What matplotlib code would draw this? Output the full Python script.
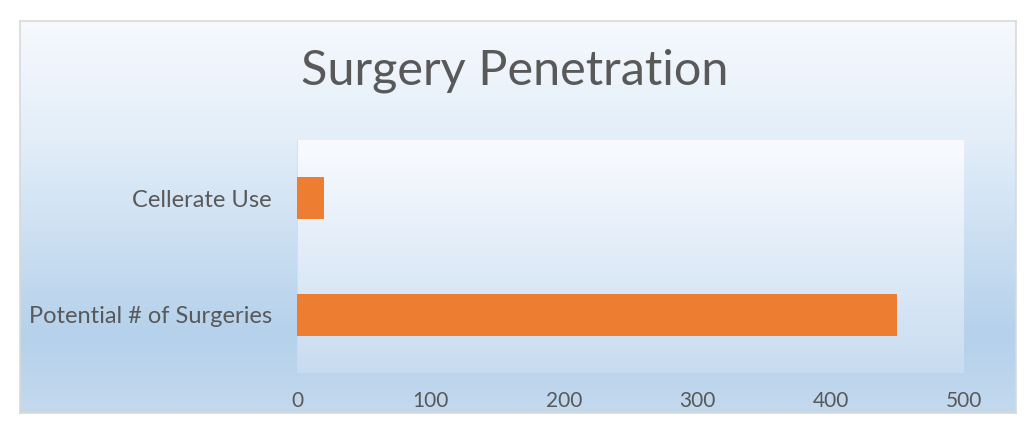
import numpy as np
import matplotlib
matplotlib.use('Agg')
import matplotlib.pyplot as plt
from matplotlib.colors import LinearSegmentedColormap

# data
categories = ['Potential # of Surgeries', 'Cellerate Use']
values = [450, 20]
xticks = [0, 100, 200, 300, 400, 500]

plt.rcParams['font.family'] = ['Lato', 'DejaVu Sans']
text_color = '#595959'

fig = plt.figure(figsize=(10.34, 4.34), dpi=100)
fig.patch.set_facecolor('white')

# outer chart area with gradient
bg = fig.add_axes([20 / 1034, 21 / 434, 996 / 1034, 392 / 434])
outer_cmap = LinearSegmentedColormap.from_list(
    'outer', [(0.0, '#f6f9fd'), (0.3, '#e3eef9'), (0.8, '#b5d1eb'), (1.0, '#c3d9ee')])
grad = np.linspace(0, 1, 256).reshape(-1, 1)
bg.imshow(grad, aspect='auto', cmap=outer_cmap, extent=[0, 1, 0, 1], origin='upper')
bg.set_xlim(0, 1)
bg.set_ylim(0, 1)
bg.set_xticks([])
bg.set_yticks([])
for s in bg.spines.values():
    s.set_color('#d9d9d9')
    s.set_linewidth(1.2)

# plot area
ax = fig.add_axes([297 / 1034, 61 / 434, 667 / 1034, 233 / 434])
inner_cmap = LinearSegmentedColormap.from_list(
    'inner', [(0.0, '#f9fbfe'), (0.5, '#e1ecf8'), (1.0, '#c8dcf0')])
ax.imshow(grad, aspect='auto', cmap=inner_cmap, extent=[0, 500, -0.5, 1.5],
          origin='upper', zorder=0)
ax.barh(range(len(categories)), values, height=0.36, color='#ed7d31', zorder=2)
ax.set_xlim(0, 500)
ax.set_ylim(-0.5, 1.5)
ax.set_xticks(xticks)
ax.set_yticks(range(len(categories)))
ax.set_yticklabels(categories)
ax.tick_params(length=0, colors=text_color)
ax.tick_params(axis='y', pad=18, labelsize=17)
ax.tick_params(axis='x', pad=13, labelsize=15)
for s in ax.spines.values():
    s.set_visible(False)
ax.axvline(0, color='#d9d9d9', lw=1.2, zorder=1)

fig.text(515 / 1034, 1 - 71 / 434, 'Surgery Penetration', ha='center', va='center',
         fontsize=35, color=text_color)

fig.savefig('out.png', dpi=100)
